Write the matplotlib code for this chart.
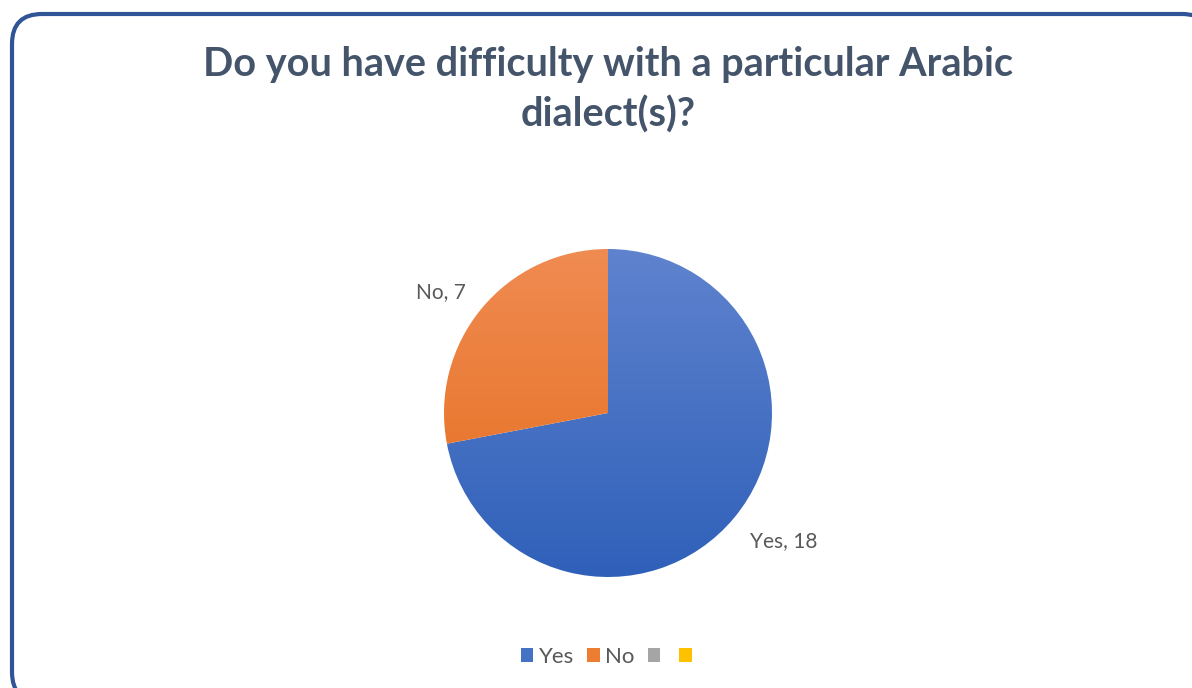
import numpy as np
import matplotlib
matplotlib.use('Agg')
import matplotlib.pyplot as plt
from matplotlib.patches import FancyBboxPatch, Patch
from matplotlib.colors import LinearSegmentedColormap

# Survey answers
categories = ['Yes', 'No', '', '']
counts = [18, 7, 0, 0]
title = 'Do you have difficulty with a particular Arabic\ndialect(s)?'

# top/bottom shades for each slice (gradient fill), legend colours
shade_top = ['#5F83CE', '#F08B52', '#A5A5A5', '#FFC000']
shade_bot = ['#2F60B9', '#E46C1A', '#A5A5A5', '#FFC000']
legend_colors = ['#4472C4', '#ED7D31', '#A5A5A5', '#FFC000']
# nudge of the data labels away from the default spot, in pixels
label_nudge = {0: (10, 9), 1: (-2, -16)}

W, H = 1192, 688
fig = plt.figure(figsize=(W / 100, H / 100), dpi=100)
plt.rcParams['font.family'] = ['Lato', 'DejaVu Sans']

# background frame in pixel coordinates
bg = fig.add_axes([0, 0, 1, 1])
bg.set_xlim(0, W)
bg.set_ylim(H, 0)
bg.axis('off')
frame = FancyBboxPatch((12, 14), 1200, 688, boxstyle='round,pad=0,rounding_size=30',
                       facecolor='white', edgecolor='#2F5597', linewidth=3.0)
bg.add_patch(frame)

fig.text(608 / W, 1 - 90 / H, title, ha='center', va='center', fontsize=28.5,
         fontweight='bold', color='#44546A', linespacing=1.42)

# pie axes: radius 1 -> ~164 px
R = 164
cx, cy, half = 608, 413, 200
ax = fig.add_axes([(cx - half) / W, (H - cy - half) / H, 2 * half / W, 2 * half / H])
lim = 2 * half / (2 * R)
ax.set_aspect('equal')
ax.axis('off')

idx = [i for i, v in enumerate(counts) if v > 0]
vals = [counts[i] for i in idx]
labels = [f'{categories[i]}, {counts[i]}' for i in idx]
wedges, texts = ax.pie(vals, labels=labels, startangle=90, counterclock=False,
                       labeldistance=1.31, textprops=dict(fontsize=15, color='#595959'),
                       wedgeprops=dict(linewidth=0, edgecolor='none'))
ax.set_xlim(-lim, lim)
ax.set_ylim(-lim, lim)

grad = np.linspace(0, 1, 256).reshape(-1, 1)
for w, i, t in zip(wedges, idx, texts):
    t.set_ha('center')
    t.set_va('center')
    x, y = t.get_position()
    dx, dy = label_nudge.get(i, (0, 0))
    t.set_position((x + dx / R, y + dy / R))
    cmap = LinearSegmentedColormap.from_list(f'g{i}', [shade_top[i], shade_bot[i]])
    w.set_facecolor('none')
    im = ax.imshow(grad, cmap=cmap, extent=(-1, 1, -1, 1), origin='upper',
                   aspect='auto', zorder=0.5)
    im.set_clip_path(w)

handles = [Patch(facecolor=c, edgecolor='none') for c in legend_colors]
fig.legend(handles, categories, loc='center', bbox_to_anchor=(609 / W, 1 - 657 / H),
           ncol=4, frameon=False, fontsize=16, handlelength=0.56, handleheight=0.56,
           handletextpad=0.25, columnspacing=0.6, labelcolor='#595959')

fig.savefig('out.png', dpi=100)
